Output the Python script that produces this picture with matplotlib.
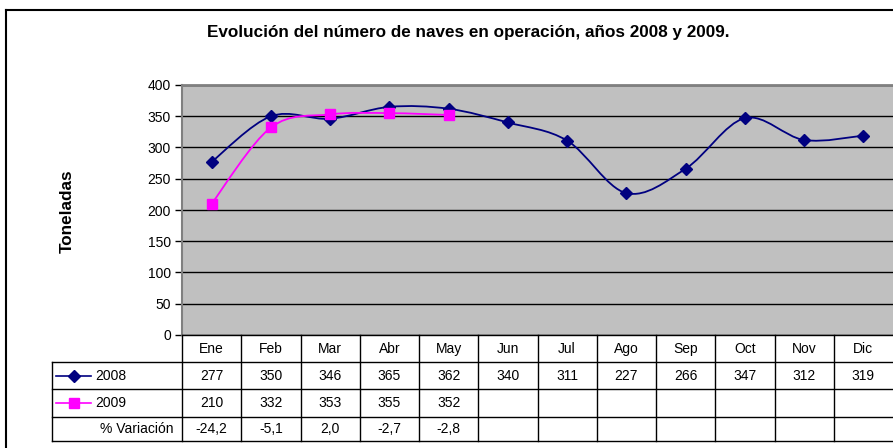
import numpy as np
import matplotlib.pyplot as plt
from matplotlib.path import Path
from matplotlib.patches import PathPatch
from matplotlib.lines import Line2D

plt.rcParams['font.family'] = ['Liberation Sans', 'DejaVu Sans']

months = ['Ene', 'Feb', 'Mar', 'Abr', 'May', 'Jun', 'Jul', 'Ago', 'Sep', 'Oct', 'Nov', 'Dic']
naves_2008 = [277, 350, 346, 365, 362, 340, 311, 227, 266, 347, 312, 319]
naves_2009 = [210, 332, 353, 355, 352]
variacion = ['-24,2', '-5,1', '2,0', '-2,7', '-2,8']

title = 'Evolución del número de naves en operación, años 2008 y 2009.'

W, H = 893, 448


def fx(x):
    return x / W


def fy(y):
    return 1 - y / H


def smooth_path(ys):
    # Excel-like smoothed line: cubic Bezier through each point
    xs = np.arange(len(ys), dtype=float)
    ys = np.asarray(ys, dtype=float)
    pts = np.column_stack([xs, ys])
    ext = np.vstack([pts[0], pts, pts[-1]])
    verts = [pts[0]]
    codes = [Path.MOVETO]
    for i in range(len(pts) - 1):
        p0, p1, p2, p3 = ext[i], ext[i + 1], ext[i + 2], ext[i + 3]
        verts += [p1 + (p2 - p0) / 6, p2 - (p3 - p1) / 6, p2]
        codes += [Path.CURVE4] * 3
    return Path(verts, codes)


fig = plt.figure(figsize=(W / 100, H / 100), dpi=100)

# outer chart frame
fig.add_artist(Line2D([fx(6), fx(6)], [fy(10), fy(448)], color='black', lw=1.5))
fig.add_artist(Line2D([fx(6), fx(893)], [fy(10), fy(10)], color='black', lw=1.5))

fig.text(fx(468), fy(33), title, ha='center', va='center', fontsize=12.3, fontweight='bold')

ax = fig.add_axes([fx(182), fy(335), fx(893 - 182), (335 - 85) / H])
ax.set_facecolor('#c0c0c0')
ax.set_xlim(-0.5, 11.5)
ax.set_ylim(0, 400)
ax.set_yticks(range(0, 401, 50))
ax.set_xticks([])
ax.yaxis.grid(True, color='black', lw=1)
ax.set_axisbelow(True)
for s in ['right', 'bottom']:
    ax.spines[s].set_visible(False)
ax.spines['top'].set_color('#808080')
ax.spines['top'].set_linewidth(2)
ax.spines['left'].set_color('#808080')
ax.spines['left'].set_linewidth(1.5)
ax.tick_params(axis='y', length=5, width=1, color='black', labelsize=10, pad=3)

ax.add_patch(PathPatch(smooth_path(naves_2008), fill=False, edgecolor='#000080', lw=1.3))
ax.add_patch(PathPatch(smooth_path(naves_2009), fill=False, edgecolor='#ff00ff', lw=1.3))
ax.plot(range(len(naves_2008)), naves_2008, ls='none', marker='D', ms=6,
        color='#000080', clip_on=False)
ax.plot(range(len(naves_2009)), naves_2009, ls='none', marker='s', ms=7.5,
        color='#ff00ff', clip_on=False)

fig.text(fx(67.5), fy(211), 'Toneladas', rotation=90, ha='center', va='center',
         fontsize=12.3, fontweight='bold')

# data table
col_w = (893 - 182) / 12
rows_y = [335, 362, 389, 417, 441]
lc = '#000000'
# horizontal lines
fig.add_artist(Line2D([fx(182), fx(893)], [fy(335), fy(335)], color=lc, lw=1))
for y in rows_y[1:]:
    fig.add_artist(Line2D([fx(52), fx(893)], [fy(y), fy(y)], color=lc, lw=1))
# vertical lines
fig.add_artist(Line2D([fx(52), fx(52)], [fy(362), fy(441)], color=lc, lw=1))
for i in range(12):
    x = 182 + i * col_w
    fig.add_artist(Line2D([fx(x), fx(x)], [fy(335), fy(441)], color=lc, lw=1))

fs = 10
for i, m in enumerate(months):
    cx = fx(182 + (i + 0.5) * col_w)
    fig.text(cx, fy(348.5), m, ha='center', va='center', fontsize=fs)
    fig.text(cx, fy(375.5), str(naves_2008[i]), ha='center', va='center', fontsize=fs)
for i, v in enumerate(naves_2009):
    cx = fx(182 + (i + 0.5) * col_w)
    fig.text(cx, fy(403), str(v), ha='center', va='center', fontsize=fs)
    fig.text(cx, fy(429), variacion[i], ha='center', va='center', fontsize=fs)

# legend keys
fig.add_artist(Line2D([fx(56), fx(91)], [fy(376), fy(376)], color='#000080', lw=1.2))
fig.add_artist(Line2D([fx(73.5)], [fy(376)], marker='D', ms=6, color='#000080'))
fig.add_artist(Line2D([fx(56), fx(91)], [fy(403), fy(403)], color='#ff00ff', lw=1.2))
fig.add_artist(Line2D([fx(73.5)], [fy(403)], marker='s', ms=7, color='#ff00ff'))
fig.text(fx(95), fy(376), '2008', ha='left', va='center', fontsize=fs)
fig.text(fx(95), fy(403), '2009', ha='left', va='center', fontsize=fs)
fig.text(fx(173), fy(429), '% Variación', ha='right', va='center', fontsize=fs)

plt.savefig('out.png', dpi=100)
